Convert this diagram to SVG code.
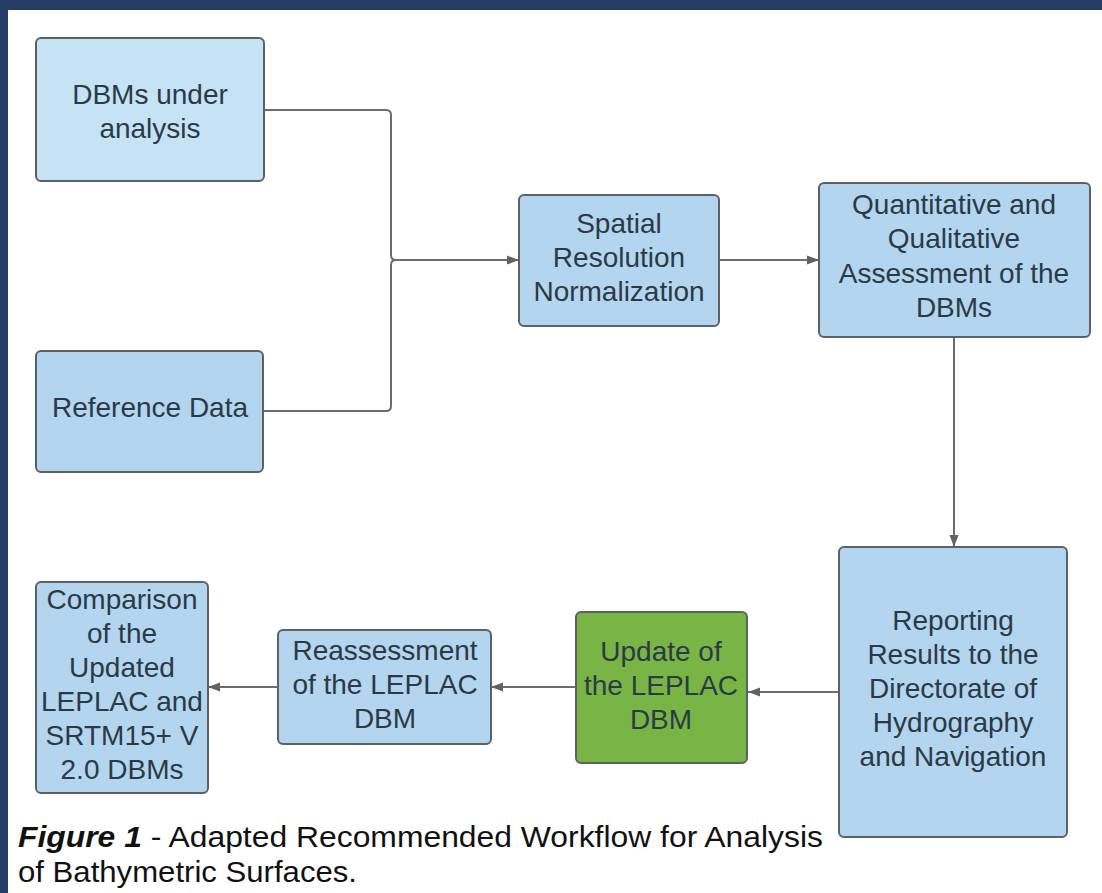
<svg xmlns="http://www.w3.org/2000/svg" width="1102" height="893" viewBox="0 0 1102 893">
  <defs>
    <marker id="arrow" viewBox="0 0 12 10" refX="12" refY="5" markerWidth="12" markerHeight="10" markerUnits="userSpaceOnUse" orient="auto">
      <path d="M0,0.5 L12,5 L0,9.5 z" fill="#5f6366"/>
    </marker>
  </defs>
  <style>
    .box { fill: #b3d5ef; stroke: #5c6166; stroke-width: 2; }
    .box.light { fill: #c5e3f5; }
    .box.green { fill: #79b544; }
    .lbl { font-family: "Liberation Sans", Arial, sans-serif; font-size: 28px; fill: #2b3a46; text-anchor: middle; }
    .wire { fill: none; stroke: #6a6d70; stroke-width: 2; }
    .cap { font-family: "Liberation Sans", Arial, sans-serif; font-size: 30px; fill: #111111; }
  </style>

  <!-- page frame -->
  <rect x="0" y="0" width="1102" height="893" fill="#ffffff"/>
  <rect x="0" y="0" width="1102" height="10" fill="#263d68"/>
  <rect x="0" y="0" width="8" height="893" fill="#263d68"/>

  <!-- connectors -->
  <g id="connectors">
    <path class="wire" d="M264,110 H386 q5,0 5,5 V255 q0,5 5,5 H519" marker-end="url(#arrow)"/>
    <path class="wire" d="M263,411 H386 q5,0 5,-5 V265 q0,-5 5,-5"/>
    <path class="wire" d="M719,260 H819" marker-end="url(#arrow)"/>
    <path class="wire" d="M954,337 V547" marker-end="url(#arrow)"/>
    <path class="wire" d="M839,692 H748" marker-end="url(#arrow)"/>
    <path class="wire" d="M576,687 H491" marker-end="url(#arrow)"/>
    <path class="wire" d="M278,687 H208" marker-end="url(#arrow)"/>
  </g>

  <g id="dbms-under-analysis">
    <rect class="box light" x="36" y="38" width="228" height="143" rx="5"/>
    <text class="lbl" x="150" y="104">DBMs under</text>
    <text class="lbl" x="150" y="138">analysis</text>
  </g>

  <g id="reference-data">
    <rect class="box" x="36" y="351" width="227" height="121" rx="5"/>
    <text class="lbl" x="150" y="417">Reference Data</text>
  </g>

  <g id="spatial-resolution">
    <rect class="box" x="519" y="195" width="200" height="131" rx="5"/>
    <text class="lbl" x="619" y="233">Spatial</text>
    <text class="lbl" x="619" y="267">Resolution</text>
    <text class="lbl" x="619" y="301">Normalization</text>
  </g>

  <g id="assessment">
    <rect class="box" x="819" y="183" width="271" height="154" rx="5"/>
    <text class="lbl" x="954" y="214">Quantitative and</text>
    <text class="lbl" x="954" y="248">Qualitative</text>
    <text class="lbl" x="954" y="283">Assessment of the</text>
    <text class="lbl" x="954" y="317">DBMs</text>
  </g>

  <g id="reporting">
    <rect class="box" x="839" y="547" width="228" height="290" rx="5"/>
    <text class="lbl" x="953" y="630">Reporting</text>
    <text class="lbl" x="953" y="664">Results to the</text>
    <text class="lbl" x="953" y="698">Directorate of</text>
    <text class="lbl" x="953" y="732">Hydrography</text>
    <text class="lbl" x="953" y="766">and Navigation</text>
  </g>

  <g id="update-leplac">
    <rect class="box green" x="576" y="612" width="171" height="151" rx="5"/>
    <text class="lbl" x="661" y="661">Update of</text>
    <text class="lbl" x="661" y="695">the LEPLAC</text>
    <text class="lbl" x="661" y="729">DBM</text>
  </g>

  <g id="reassessment">
    <rect class="box" x="278" y="630" width="213" height="114" rx="5"/>
    <text class="lbl" x="385" y="660">Reassessment</text>
    <text class="lbl" x="385" y="694">of the LEPLAC</text>
    <text class="lbl" x="385" y="728">DBM</text>
  </g>

  <g id="comparison">
    <rect class="box" x="36" y="582" width="172" height="211" rx="5"/>
    <text class="lbl" x="122" y="609">Comparison</text>
    <text class="lbl" x="122" y="643">of the</text>
    <text class="lbl" x="122" y="677">Updated</text>
    <text class="lbl" x="122" y="711">LEPLAC and</text>
    <text class="lbl" x="122" y="745">SRTM15+ V</text>
    <text class="lbl" x="122" y="779">2.0 DBMs</text>
  </g>

  <!-- figure caption -->
  <g id="caption">
    <text class="cap" x="18" y="847" textLength="805" lengthAdjust="spacingAndGlyphs"><tspan font-weight="bold" font-style="italic">Figure 1</tspan> - Adapted Recommended Workflow for Analysis</text>
    <text class="cap" x="18" y="882" textLength="339" lengthAdjust="spacingAndGlyphs">of Bathymetric Surfaces.</text>
  </g>
</svg>
